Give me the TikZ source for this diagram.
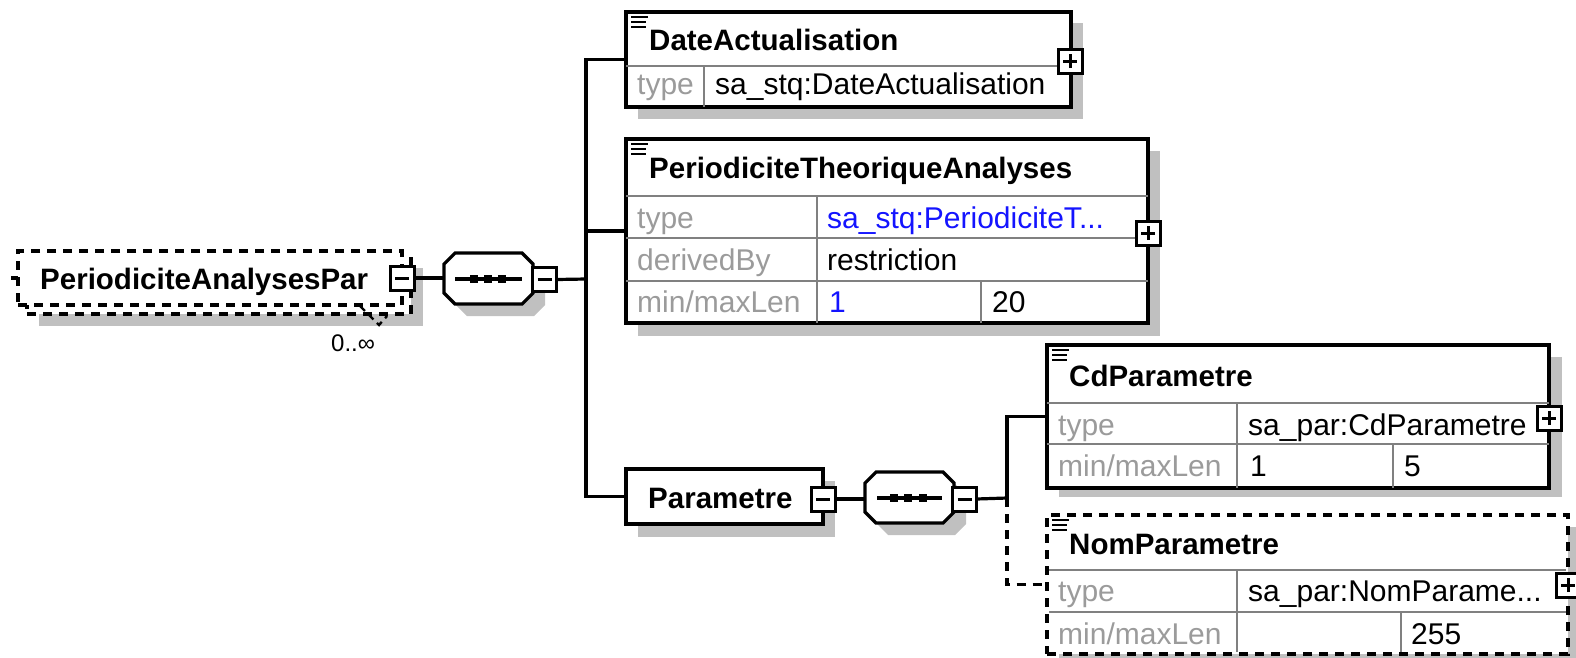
\documentclass[tikz,border=0pt]{standalone}
\usepackage{fontspec}
\setmainfont{Liberation Sans}
\usetikzlibrary{calc}
\definecolor{shadowgray}{RGB}{192,192,192}
\definecolor{sepgray}{RGB}{128,128,128}
\definecolor{labgray}{RGB}{155,155,155}
\definecolor{valblue}{RGB}{20,20,255}
\pgfdeclarelayer{bg}
\pgfsetlayers{bg,main}
\begin{document}
\begin{tikzpicture}[x=1pt,y=-1pt,
 elbox/.style={draw, line width=3.2pt, fill=white, inner sep=0pt, outer sep=0pt, anchor=north west, rectangle},
 optline/.style={dash pattern=on 9pt off 7pt},
 shadowfill/.style={fill=shadowgray},
 sepline/.style={draw=sepgray, line width=2.4pt},
 conn/.style={line width=3.2pt},
 titletext/.style={font=\bfseries\fontsize{29.5}{34}\selectfont, anchor=base west, inner sep=0pt},
 labtext/.style={font=\fontsize{30}{34}\selectfont, text=labgray, anchor=base west, inner sep=0pt},
 valtext/.style={font=\fontsize{30}{34}\selectfont, anchor=base west, inner sep=0pt},
 bluetext/.style={valtext, text=valblue},
 pmbox/.style={draw, line width=3pt, fill=white, minimum size=24pt, inner sep=0pt, outer sep=0pt, rectangle},
 minusbox/.style={pmbox, path picture={\draw[line width=3pt] ([xshift=-7pt]path picture bounding box.center) -- ([xshift=7pt]path picture bounding box.center);}},
 plusbox/.style={pmbox, path picture={\draw[line width=3pt] ([xshift=-7pt]path picture bounding box.center) -- ([xshift=7pt]path picture bounding box.center) ([yshift=-7pt]path picture bounding box.center) -- ([yshift=7pt]path picture bounding box.center);}},
 iconline/.style={line width=2.4pt},
 seqnode/.style={inner sep=0pt, outer sep=0pt, minimum width=89pt, minimum height=51pt, rectangle},
 seqdot/.style={fill=black, minimum size=8pt, inner sep=0pt, rectangle}
]
\useasboundingbox (0,0) rectangle (1576,657);

% ---------- shadows ----------
\begin{pgfonlayer}{bg}
\fill[white] (0,0) rectangle (1576,657);
\fill[shadowfill] (39,268) rectangle (423,326);
\fill[shadowfill] (456,265) ++(11,0) -- ++(67,0) -- ++(11,11) -- ++(0,29) -- ++(-11,11) -- ++(-67,0) -- ++(-11,-11) -- ++(0,-29) -- cycle;
\fill[shadowfill] (638,23) rectangle (1083,119);
\fill[shadowfill] (638,151) rectangle (1160,336);
\fill[shadowfill] (638,481) rectangle (835,537);
\fill[shadowfill] (877,484) ++(11,0) -- ++(67,0) -- ++(11,11) -- ++(0,29) -- ++(-11,11) -- ++(-67,0) -- ++(-11,-11) -- ++(0,-29) -- cycle;
\fill[shadowfill] (1059,357) rectangle (1562,497);
\fill[shadowfill] (1059,527) rectangle (1580,666);
\end{pgfonlayer}

% ---------- PeriodiciteAnalysesPar ----------
\node[elbox, optline, minimum width=384pt, minimum height=55pt] (papback) at (27,259) {};
\node[elbox, optline, minimum width=384pt, minimum height=54pt] (pap) at (18,251) {};
\node[titletext] (paptitle) at (40,289) {PeriodiciteAnalysesPar};
\node[minusbox] (papm) at (pap.east) {};
\coordinate (papin) at (11,278);
\draw[conn] (papin) -- (pap.west);
\draw[line width=2.4pt, dash pattern=on 7pt off 5pt] (360,306) -- (379,325) -- (387,316);
\node[font=\fontsize{24}{28}\selectfont, anchor=base west, inner sep=0pt] (occ) at (331,351) {0..∞};

% ---------- sequence 1 ----------
\draw[conn, fill=white] (444,253) ++(11,0) -- ++(67,0) -- ++(11,11) -- ++(0,29) -- ++(-11,11) -- ++(-67,0) -- ++(-11,-11) -- ++(0,-29) -- cycle;
\node[seqnode] (seq1) at (488.5,278.5) {};
\draw[conn] (455,279) -- (522,279);
\node[seqdot] (d11) at (473.5,279) {};
\node[seqdot] (d12) at (487.5,279) {};
\node[seqdot] (d13) at (501.5,279) {};
\node[minusbox] (seq1m) at (544.5,279.5) {};
\coordinate (t1) at (586,279);

% ---------- DateActualisation ----------
\node[elbox, minimum width=445pt, minimum height=95pt] (date) at (626,12) {};
\draw[sepline] (626,66) -- (1071,66) (704,66) -- (704,107);
\draw[iconline] (631,17) -- (648,17) (631,22) -- (646,22) (631,27) -- (646,27);
\node[titletext] (datetitle) at (649,50) {DateActualisation};
\node[labtext] (datetypel) at (637,94) {type};
\node[valtext] (datetypev) at (715,94) {sa\_stq:DateActualisation};
\node[plusbox] (datep) at (1070,61) {};

% ---------- PeriodiciteTheoriqueAnalyses ----------
\node[elbox, minimum width=522pt, minimum height=184pt] (perio) at (626,139) {};
\draw[sepline] (626,196) -- (1148,196) (626,238) -- (1148,238) (626,281) -- (1148,281)
  (817,196) -- (817,323) (981,281) -- (981,323);
\draw[iconline] (631,144) -- (648,144) (631,149) -- (646,149) (631,154) -- (646,154);
\node[titletext] (periotitle) at (649,178) {PeriodiciteTheoriqueAnalyses};
\node[labtext] (periotypel) at (637,228) {type};
\node[bluetext] (periotypev) at (827,228) {sa\_stq:PeriodiciteT...};
\node[labtext] (periodbl) at (637,270) {derivedBy};
\node[valtext] (periodbv) at (827,270) {restriction};
\node[labtext] (periolenl) at (637,312) {min/maxLen};
\node[bluetext] (periominv) at (829,312) {1};
\node[valtext] (periomaxv) at (992,312) {20};
\node[plusbox] (periop) at (1148,233) {};

% ---------- Parametre ----------
\node[elbox, minimum width=197pt, minimum height=55pt] (param) at (626,469) {};
\node[titletext] (paramtitle) at (648,508) {Parametre};
\node[minusbox] (paramm) at (823,499) {};

% ---------- sequence 2 ----------
\draw[conn, fill=white] (865,472) ++(11,0) -- ++(67,0) -- ++(11,11) -- ++(0,29) -- ++(-11,11) -- ++(-67,0) -- ++(-11,-11) -- ++(0,-29) -- cycle;
\node[seqnode] (seq2) at (909.5,497.5) {};
\draw[conn] (877,498) -- (942,498);
\node[seqdot] (d21) at (893.5,498) {};
\node[seqdot] (d22) at (908,498) {};
\node[seqdot] (d23) at (922.5,498) {};
\node[minusbox] (seq2m) at (964.5,499) {};
\coordinate (t2) at (1007,498);

% ---------- CdParametre ----------
\node[elbox, minimum width=502pt, minimum height=143pt] (cd) at (1047,345) {};
\draw[sepline] (1047,403) -- (1549,403) (1047,444) -- (1549,444)
  (1237,403) -- (1237,488) (1393,444) -- (1393,488);
\draw[iconline] (1052,350) -- (1069,350) (1052,355) -- (1067,355) (1052,360) -- (1067,360);
\node[titletext] (cdtitle) at (1069,386) {CdParametre};
\node[labtext] (cdtypel) at (1058,435) {type};
\node[valtext] (cdtypev) at (1248,435) {sa\_par:CdParametre};
\node[labtext] (cdlenl) at (1058,476) {min/maxLen};
\node[valtext] (cdminv) at (1250,476) {1};
\node[valtext] (cdmaxv) at (1404,476) {5};
\node[plusbox] (cdp) at (1549,418) {};

% ---------- NomParametre ----------
\node[elbox, optline, minimum width=521pt, minimum height=139pt] (nom) at (1047,515) {};
\draw[sepline] (1049,570) -- (1566,570) (1049,612) -- (1566,612)
  (1237,570) -- (1237,652) (1401,612) -- (1401,652);
\draw[iconline] (1052,520) -- (1069,520) (1052,525) -- (1067,525) (1052,530) -- (1067,530);
\node[titletext] (nomtitle) at (1069,554) {NomParametre};
\node[labtext] (nomtypel) at (1058,601) {type};
\node[valtext] (nomtypev) at (1248,601) {sa\_par:NomParame...};
\node[labtext] (nomlenl) at (1058,644) {min/maxLen};
\node[valtext] (nommaxv) at (1411,644) {255};
\node[plusbox] (nomp) at (1568,585) {};

% ---------- connectors ----------
\draw[conn] (papm.east) -- (papm.east -| seq1.west);
\draw[conn] (seq1m.east) -- (t1);
\draw[conn] (date.west) -| (t1);
\draw[conn] (perio.west) -| (t1);
\draw[conn] (param.west) -| (t1);
\draw[conn] (paramm.east) -- (paramm.east -| seq2.west);
\draw[conn] (seq2m.east) -- (t2);
\draw[conn] (cd.west) -| (t2);
\draw[conn, optline] (t2) |- (nom.west);
\end{tikzpicture}
\end{document}
